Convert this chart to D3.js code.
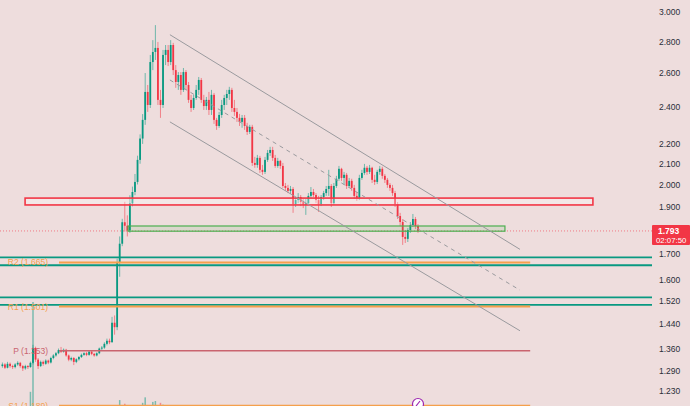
<!DOCTYPE html>
<html>
<head>
<meta charset="utf-8">
<script src="https://cdn.jsdelivr.net/npm/d3@7"></script>
<style>
	body { margin: 0; background: #eedddd; }
	svg { display: block; font-family: "Liberation Sans", Arial, sans-serif; }
</style>
</head>
<body>
<div id="chart"></div>
<script>
// candles: open of each bar = previous close
var firstOpen = 1.305;
var closes = [
	1.310, 1.300, 1.312, 1.305, 1.302, 1.310, 1.315, 1.305, 1.298, 1.305,
	1.302, 1.315, 1.362, 1.325, 1.305, 1.318, 1.312, 1.322, 1.316, 1.330,
	1.338, 1.345, 1.355, 1.350, 1.356, 1.338, 1.325, 1.330, 1.318, 1.326,
	1.333, 1.340, 1.345, 1.340, 1.350, 1.343, 1.338, 1.345, 1.360, 1.363,
	1.375, 1.385, 1.380,
	1.445, 1.430, 1.665, 1.740, 1.830, 1.815, 1.795,
	1.913, 1.965, 2.012, 2.119, 2.228, 2.328, 2.486, 2.411, 2.667, 2.731,
	2.757, 2.440, 2.411, 2.712, 2.744, 2.667, 2.776, 2.617, 2.545, 2.587,
	2.498, 2.605, 2.527, 2.440, 2.394, 2.451, 2.498, 2.557, 2.440, 2.405,
	2.440, 2.383, 2.469, 2.328, 2.295, 2.355, 2.411, 2.451, 2.474, 2.498,
	2.394, 2.372, 2.339, 2.317, 2.339, 2.295, 2.263, 2.290, 2.104, 2.094,
	2.129, 2.070, 2.060, 2.119, 2.154, 2.169, 2.129, 2.089, 2.114, 2.089,
	1.993, 1.984, 1.970, 1.979, 1.910, 1.928, 1.942, 1.919, 1.906, 1.914,
	1.947, 1.965, 1.951, 1.928, 1.910, 1.942, 1.960, 1.979, 1.993, 1.914,
	1.993, 2.027, 2.075, 2.031, 2.046, 1.993, 2.017, 1.984, 1.947, 1.938,
	2.031, 2.055, 2.080, 2.060, 2.080, 2.022, 2.012, 2.060, 2.075, 2.041,
	2.022, 1.998, 1.984, 1.960, 1.910, 1.857, 1.831, 1.768, 1.760, 1.797,
	1.818, 1.844, 1.814, 1.793
];
var highs = [
	1.316, 1.314, 1.318, 1.316, 1.309, 1.314, 1.320, 1.318, 1.308, 1.309,
	1.308, 1.319, 1.372, 1.366, 1.330, 1.322, 1.322, 1.326, 1.325, 1.334,
	1.342, 1.349, 1.360, 1.365, 1.360, 1.359, 1.341, 1.334, 1.333, 1.329,
	1.336, 1.344, 1.348, 1.349, 1.353, 1.352, 1.346, 1.348, 1.363, 1.368,
	1.380, 1.392, 1.392,
	1.465, 1.470, 1.680, 1.770, 1.845, 1.920, 1.860,
	1.950, 1.990, 2.050, 2.140, 2.250, 2.360, 2.599, 2.527, 2.712, 2.808,
	2.909, 2.796, 2.498, 2.744, 2.776, 2.776, 2.808, 2.790, 2.648, 2.605,
	2.605, 2.630, 2.617, 2.545, 2.469, 2.469, 2.527, 2.575, 2.569, 2.469,
	2.457, 2.486, 2.498, 2.480, 2.339, 2.372, 2.440, 2.469, 2.498, 2.516,
	2.510, 2.440, 2.394, 2.361, 2.355, 2.355, 2.312, 2.301, 2.301, 2.134,
	2.144, 2.139, 2.094, 2.134, 2.169, 2.185, 2.185, 2.144, 2.129, 2.119,
	2.104, 2.007, 1.998, 1.993, 1.988, 1.942, 1.960, 1.951, 1.933, 1.933,
	1.960, 1.988, 1.979, 1.960, 1.947, 1.951, 1.970, 1.993, 2.070, 2.002,
	2.007, 2.041, 2.089, 2.080, 2.060, 2.055, 2.031, 2.027, 1.998, 1.965,
	2.046, 2.070, 2.099, 2.089, 2.094, 2.085, 2.046, 2.070, 2.089, 2.085,
	2.050, 2.031, 2.007, 1.998, 1.970, 1.919, 1.871, 1.844, 1.797, 1.805,
	1.831, 1.866, 1.853, 1.822
];
var lows = [
	1.300, 1.296, 1.298, 1.300, 1.296, 1.298, 1.306, 1.300, 1.290, 1.294,
	1.296, 1.300, 1.310, 1.318, 1.296, 1.302, 1.306, 1.309, 1.311, 1.313,
	1.326, 1.334, 1.342, 1.346, 1.347, 1.334, 1.320, 1.320, 1.308, 1.314,
	1.322, 1.330, 1.337, 1.336, 1.337, 1.339, 1.334, 1.335, 1.342, 1.355,
	1.359, 1.370, 1.374,
	1.380, 1.405, 1.420, 1.610, 1.730, 1.790, 1.770,
	1.785, 1.900, 1.950, 2.000, 2.100, 2.200, 2.301, 2.372, 2.394, 2.617,
	2.680, 2.411, 2.339, 2.394, 2.648, 2.642, 2.648, 2.587, 2.510, 2.498,
	2.469, 2.486, 2.498, 2.423, 2.372, 2.383, 2.440, 2.469, 2.423, 2.383,
	2.383, 2.355, 2.355, 2.306, 2.274, 2.285, 2.339, 2.383, 2.411, 2.440,
	2.372, 2.350, 2.317, 2.295, 2.285, 2.274, 2.247, 2.252, 2.089, 2.080,
	2.080, 2.055, 2.046, 2.050, 2.109, 2.139, 2.114, 2.080, 2.080, 2.075,
	1.984, 1.970, 1.960, 1.956, 1.871, 1.897, 1.914, 1.901, 1.892, 1.862,
	1.906, 1.938, 1.942, 1.914, 1.875, 1.901, 1.928, 1.947, 1.947, 1.897,
	1.906, 1.984, 2.017, 2.017, 1.998, 1.979, 1.984, 1.970, 1.933, 1.924,
	1.928, 2.022, 2.046, 2.046, 2.050, 2.007, 1.998, 2.002, 2.046, 2.027,
	2.007, 1.984, 1.970, 1.947, 1.897, 1.844, 1.814, 1.735, 1.743, 1.747,
	1.785, 1.810, 1.801, 1.785
];

// volume (only the bars tall enough to show above the bottom edge)
var volIndex = [11, 12, 46, 48, 55, 56, 59, 60, 62, 63, 67];
var volValue = [2.2, 12.0, 1.3, 0.9, 1.0, 1.6, 1.1, 1.2, 1.0, 0.8, 0.75];

// price axis
var tickValues = [3.0, 2.8, 2.6, 2.4, 2.2, 2.1, 2.0, 1.9, 1.7, 1.6, 1.52, 1.44, 1.36, 1.29, 1.23];
var lastPrice = 1.793;
var countdown = '02:07:50';

// drawings (bar index, price)
var channelIdx = [65.7, 203];
var channelUpper = [2.844, 1.717];
var channelMid = [2.557, 1.560];
var channelLower = [2.317, 1.418];
var redZone = [8.9, 231.6, 1.906, 1.937];   // fromIdx, toIdx, low, high
var greenZone = [49.3, 197.1, 1.792, 1.814];
var tealLevels = [1.685, 1.654, 1.534, 1.507];

// pivots
var pivotNames = ['R2', 'R1', 'P', 'S1'];
var pivotValues = [1.665, 1.501, 1.353, 1.189];
var pivotColors = ['#f5a04c', '#f5a04c', '#c9646f', '#f5a04c'];
var pivotSpan = [22.2, 207];

var width = 690,
	height = 406,
	plotRight = 652;

var upColor = '#089981',
	downColor = '#f23645';

var candles = closes.map(function(c, i){
	return {
		i: i,
		open: i ? closes[i - 1] : firstOpen,
		high: highs[i],
		low: lows[i],
		close: c
	};
});

var x = d3.scaleLinear()
	.domain([0, closes.length - 1])
	.range([2.4, 418]);

var y = d3.scaleLog()
	.domain([1.29, 3.0])
	.range([371, 12]);

var vol = d3.scaleLinear()
	.domain([0, 12])
	.range([0, 110]);

var svg = d3.select('#chart').append('svg')
	.attr('width', width)
	.attr('height', height);

svg.append('rect')
	.attr('width', width)
	.attr('height', height)
	.attr('fill', '#eedddd');

svg.append('clipPath').attr('id', 'plot')
	.append('rect')
	.attr('width', plotRight)
	.attr('height', height);

var plot = svg.append('g').attr('clip-path', 'url(#plot)');

// last price line
plot.append('line')
	.attr('x1', 0).attr('x2', plotRight)
	.attr('y1', y(lastPrice)).attr('y2', y(lastPrice))
	.attr('stroke', '#f07a85')
	.attr('stroke-width', 1)
	.attr('stroke-dasharray', '1,2');

// volume
plot.selectAll('rect.vol')
	.data(volIndex)
	.enter().append('rect')
		.attr('class', 'vol')
		.attr('x', function(d){ return x(d) - 0.75; })
		.attr('width', 1.5)
		.attr('y', function(d, k){ return 412 - vol(volValue[k]); })
		.attr('height', function(d, k){ return vol(volValue[k]); })
		.attr('fill', function(d){
			return candles[d].close >= candles[d].open ? upColor : downColor;
		})
		.attr('opacity', 0.5);

// candles
var bar = plot.selectAll('g.candle')
	.data(candles)
	.enter().append('g')
		.attr('class', 'candle');

bar.append('line')
	.attr('x1', function(d){ return x(d.i); })
	.attr('x2', function(d){ return x(d.i); })
	.attr('y1', function(d){ return y(d.high); })
	.attr('y2', function(d){ return y(d.low); })
	.attr('stroke', function(d){ return d.close >= d.open ? upColor : downColor; })
	.attr('stroke-opacity', 0.55)
	.attr('stroke-width', 1);

bar.append('rect')
	.attr('x', function(d){ return x(d.i) - 0.9; })
	.attr('width', 1.8)
	.attr('y', function(d){ return y(Math.max(d.open, d.close)); })
	.attr('height', function(d){
		return Math.max(1, Math.abs(y(d.open) - y(d.close)));
	})
	.attr('fill', function(d){ return d.close >= d.open ? upColor : downColor; });

// teal support lines
plot.selectAll('line.level')
	.data(tealLevels)
	.enter().append('line')
		.attr('class', 'level')
		.attr('x1', 0).attr('x2', plotRight + 2)
		.attr('y1', function(d){ return y(d); })
		.attr('y2', function(d){ return y(d); })
		.attr('stroke', upColor)
		.attr('stroke-width', 1.8);

// pivot lines and labels
pivotValues.forEach(function(v, k){
	plot.append('line')
		.attr('x1', x(pivotSpan[0])).attr('x2', x(pivotSpan[1]))
		.attr('y1', y(v)).attr('y2', y(v))
		.attr('stroke', pivotColors[k])
		.attr('stroke-width', k == 2 ? 1.5 : 2);
	plot.append('text')
		.attr('x', x(pivotSpan[0]) - 11)
		.attr('y', y(v) + 3)
		.attr('text-anchor', 'end')
		.attr('fill', pivotColors[k])
		.style('font-size', '8.5px')
		.text(pivotNames[k] + ' (' + v.toFixed(3) + ')');
});

// zones
[[redZone, downColor, 'rgba(255,255,255,0.3)', 1.6], [greenZone, '#4caf50', 'rgba(76,175,80,0.12)', 1.2]].forEach(function(z){
	var r = z[0];
	plot.append('rect')
		.attr('x', x(r[0]))
		.attr('width', x(r[1]) - x(r[0]))
		.attr('y', y(r[3]))
		.attr('height', y(r[2]) - y(r[3]))
		.attr('fill', z[2])
		.attr('stroke', z[1])
		.attr('stroke-width', z[3]);
});

// descending channel
[[channelUpper, null], [channelMid, '4,4'], [channelLower, null]].forEach(function(c){
	plot.append('line')
		.attr('x1', x(channelIdx[0])).attr('y1', y(c[0][0]))
		.attr('x2', x(channelIdx[1])).attr('y2', y(c[0][1]))
		.attr('stroke', '#9a9a9e')
		.attr('stroke-width', 1)
		.attr('stroke-dasharray', c[1]);
});

// "now" marker
var lastX = x(closes.length - 1);
plot.append('circle')
	.attr('cx', lastX).attr('cy', 404)
	.attr('r', 5.5)
	.attr('fill', '#ffffff')
	.attr('stroke', '#9c27b0')
	.attr('stroke-width', 1.2);
plot.append('line')
	.attr('x1', lastX - 2).attr('y1', 406)
	.attr('x2', lastX + 2).attr('y2', 401)
	.attr('stroke', '#9c27b0')
	.attr('stroke-width', 1.2);

// price axis
var axis = d3.axisRight(y)
	.tickValues(tickValues)
	.tickFormat(d3.format('.3f'))
	.tickSize(0)
	.tickPadding(0);

var axisG = svg.append('g')
	.attr('transform', 'translate(659,0)')
	.call(axis);
axisG.select('.domain').remove();
axisG.selectAll('text')
	.attr('fill', '#2a2e39')
	.style('font-size', '8.5px')
	.style('font-family', '"Liberation Sans", Arial, sans-serif');

// last price tag
var py = y(lastPrice);
svg.append('rect')
	.attr('x', plotRight)
	.attr('y', py - 6)
	.attr('width', width - plotRight)
	.attr('height', 20)
	.attr('rx', 1)
	.attr('fill', downColor);
svg.append('text')
	.attr('x', 658).attr('y', py + 3)
	.attr('fill', '#ffffff')
	.style('font-size', '8.5px')
	.style('font-weight', 'bold')
	.text(lastPrice.toFixed(3));
svg.append('text')
	.attr('x', 656).attr('y', py + 12)
	.attr('fill', '#ffffff')
	.style('font-size', '7.8px')
	.text(countdown);
</script>
</body>
</html>
